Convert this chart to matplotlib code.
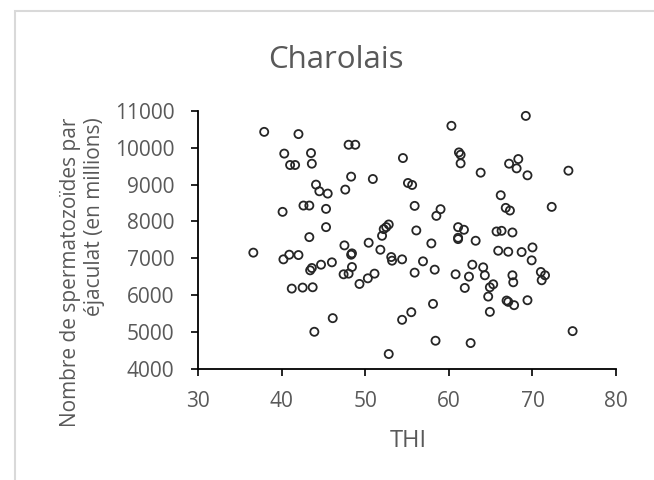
import matplotlib.pyplot as plt
from matplotlib.patches import Rectangle

# THI vs nombre de spermatozoides
thi = [36.6, 37.9, 42.0, 40.3, 43.5, 41.0, 41.6, 43.6, 48.0, 48.8,
       44.1, 44.5, 45.5, 48.3, 50.9, 47.6, 40.1, 42.6, 43.3, 45.3,
       45.3, 43.3, 40.2, 40.9, 42.0, 43.6, 43.4, 44.7, 46.0, 41.2,
       42.5, 43.7, 46.1, 43.9, 47.5, 48.4, 48.3, 48.4, 47.4, 48.0,
       49.3, 50.3, 51.1, 50.4, 51.8, 52.0, 52.2, 52.5, 52.8, 53.1,
       53.2, 54.4, 52.8, 54.5, 55.1, 55.6, 55.9, 56.1, 55.9, 56.9,
       54.4, 55.5, 58.1, 58.4, 59.0, 58.5, 57.9, 58.3, 60.3, 61.2,
       61.4, 61.4, 63.8, 61.1, 61.8, 61.1, 61.1, 63.2, 60.8, 62.4,
       61.9, 62.8, 64.1, 64.3, 65.3, 64.9, 64.7, 64.9, 62.6, 66.2,
       66.8, 67.3, 65.7, 66.3, 67.6, 65.9, 67.1, 68.7, 70.0, 69.9,
       67.6, 67.7, 66.9, 67.1, 67.8, 69.4, 69.2, 68.3, 67.2, 68.1,
       69.4, 74.3, 72.3, 71.0, 71.5, 71.1, 74.8]
sperm = [7150, 10430, 10370, 9840, 9855, 9530, 9530, 9566, 10080, 10080,
         8997, 8817, 8754, 9214, 9150, 8862, 8258, 8429, 8429, 8339,
         7843, 7572, 6968, 7094, 7085, 6733, 6670, 6823, 6887, 6174,
         6201, 6210, 5371, 5001, 7347, 7130, 7094, 6760, 6562, 6580,
         6300, 6453, 6580, 7419, 7229, 7608, 7789, 7843, 7915, 7031,
         6932, 6968, 4397, 9719, 9042, 8988, 8420, 7753, 6607, 6914,
         5326, 5533, 5759, 4758, 8330, 8149, 7401, 6688, 10594, 9872,
         9809, 9575, 9322, 7843, 7771, 7554, 7518, 7473, 6562, 6499,
         6192, 6823, 6751, 6535, 6291, 6210, 5957, 5542, 4695, 8709,
         8366, 8294, 7725, 7743, 7698, 7202, 7175, 7166, 7292, 6941,
         6535, 6345, 5849, 5813, 5723, 5858, 10864, 9692, 9566, 9439,
         9250, 9376, 8393, 6625, 6535, 6400, 5019]

x_ticks = [30, 40, 50, 60, 70, 80]
y_ticks = [4000, 5000, 6000, 7000, 8000, 9000, 10000, 11000]

plt.rcParams['font.family'] = ['Open Sans', 'DejaVu Sans']
grey = '#595959'

fig = plt.figure(figsize=(6.54, 4.80), dpi=100)
ax = fig.add_axes([0.303, 0.232, 0.639, 0.537])

# cadre du graphique
fig.patches.append(Rectangle((15 / 654, -0.1), 1.0, 1 - 11 / 480 + 0.1,
                             transform=fig.transFigure, fill=False,
                             edgecolor='#d9d9d9', linewidth=1.5))

ax.scatter(thi, sperm, s=34, facecolors='none', edgecolors='#262626',
           linewidths=1.3, zorder=3, clip_on=False)

ax.set_xlim(30, 80)
ax.set_ylim(4000, 11000)
ax.set_xticks(x_ticks)
ax.set_yticks(y_ticks)
ax.tick_params(direction='out', length=5, width=1.2, colors='black',
               labelcolor=grey, labelsize=15)
ax.tick_params(axis='y', pad=12)
ax.tick_params(axis='x', pad=11)
for side in ['top', 'right']:
    ax.spines[side].set_visible(False)
for side in ['left', 'bottom']:
    ax.spines[side].set_color('black')
    ax.spines[side].set_linewidth(1.3)

ax.set_xlabel('THI', color=grey, fontsize=17)
ax.xaxis.label.set_va('baseline')
ax.xaxis.set_label_coords(0.502, -0.3045)

ax.set_ylabel('Nombre de spermatozoïdes par\néjaculat (en millions)',
              color=grey, fontsize=15, multialignment='right')
ax.yaxis.set_label_coords(-0.2234, 0.374)

fig.text(336 / 654, 1 - 68 / 480, 'Charolais', color=grey, fontsize=22.5,
         ha='center', va='baseline')

fig.savefig('out.png', dpi=100)
